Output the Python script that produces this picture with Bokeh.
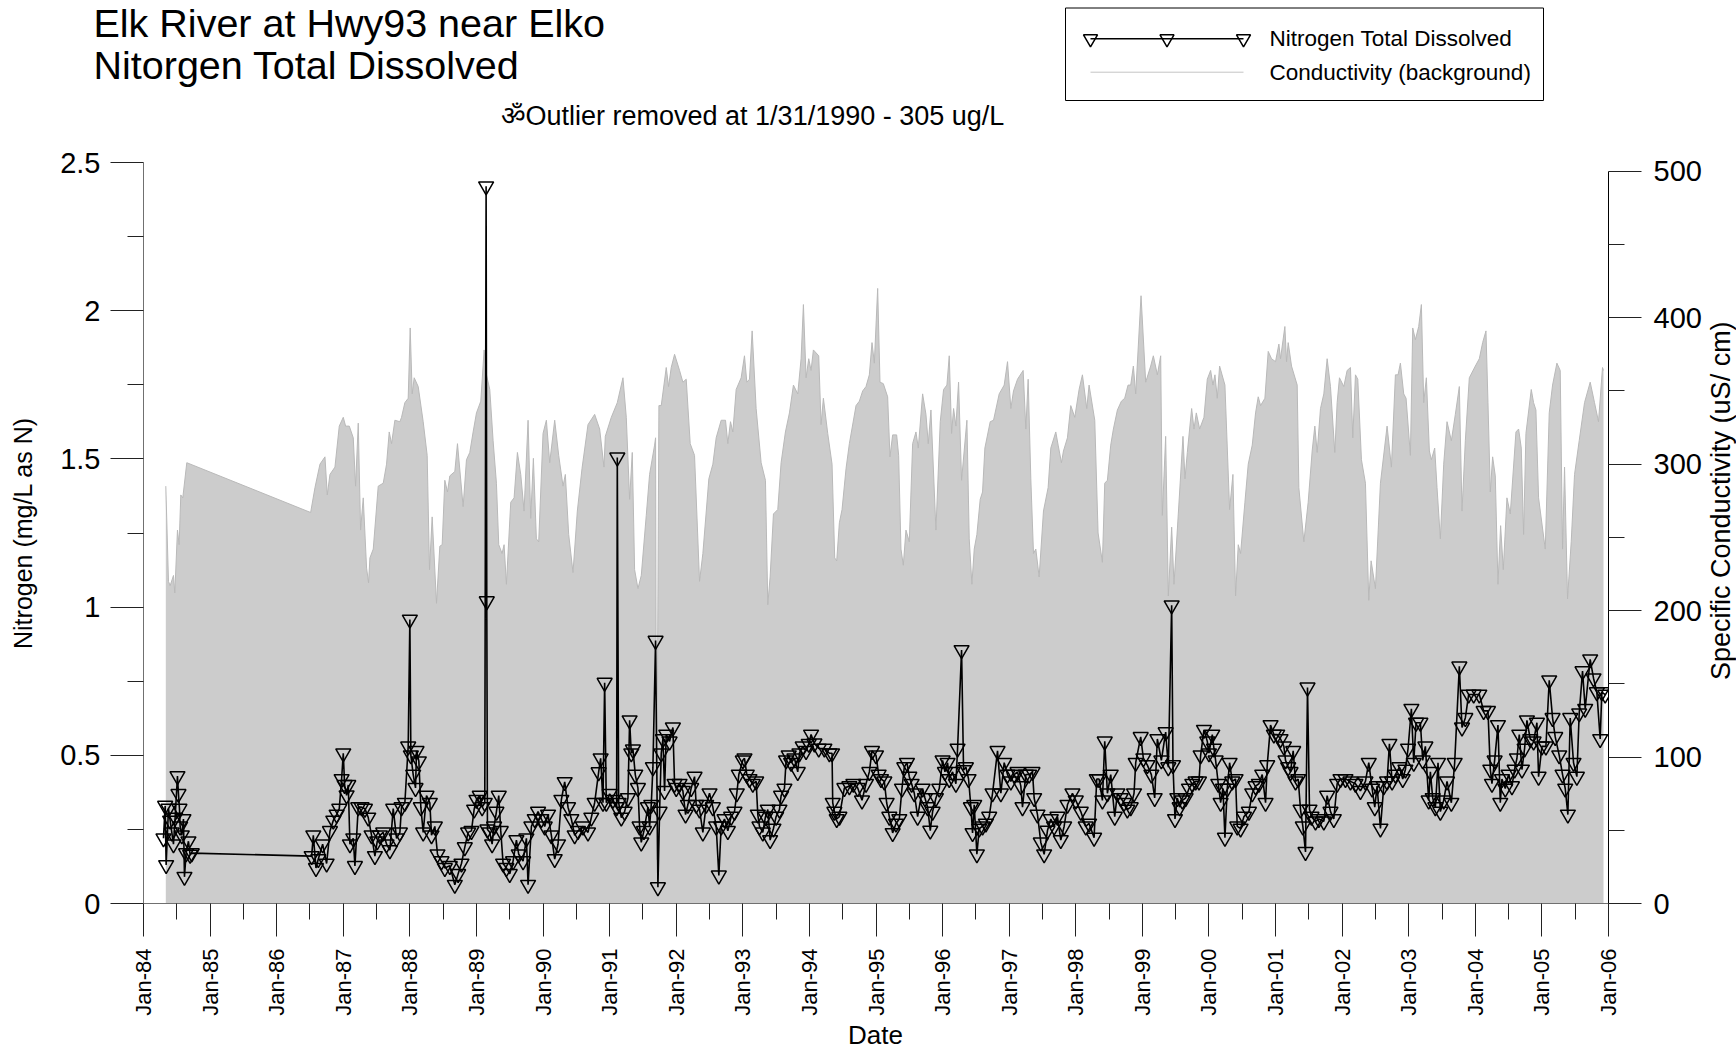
from math import pi
from bokeh.plotting import figure
from bokeh.layouts import column, row
from bokeh.models import Range1d, LinearAxis, FixedTicker
from bokeh.core.properties import value
from bokeh.embed import file_html
from bokeh.resources import INLINE

FONT = "Liberation Sans"

title_lines = ["Elk River at Hwy93 near Elko", "Nitorgen Total Dissolved"]
note_text = "\u0950Outlier removed at 1/31/1990 - 305 ug/L"
y_left_label = "Nitrogen (mg/L as N)"
y_right_label = "Specific Conductivity (uS/ cm)"
x_label = "Date"
legend_labels = ["Nitrogen Total Dissolved", "Conductivity (background)"]

x_tick_years = [1984, 1985, 1986, 1987, 1988, 1989, 1990, 1991, 1992, 1993, 1994, 1995,
                1996, 1997, 1998, 1999, 2000, 2001, 2002, 2003, 2004, 2005, 2006]
x_tick_labels = ["Jan-84", "Jan-85", "Jan-86", "Jan-87", "Jan-88", "Jan-89", "Jan-90", "Jan-91",
                 "Jan-92", "Jan-93", "Jan-94", "Jan-95", "Jan-96", "Jan-97", "Jan-98", "Jan-99",
                 "Jan-00", "Jan-01", "Jan-02", "Jan-03", "Jan-04", "Jan-05", "Jan-06"]
left_ticks = [0, 0.5, 1, 1.5, 2, 2.5]
left_tick_labels = ["0", "0.5", "1", "1.5", "2", "2.5"]
left_minor = [0.25, 0.75, 1.25, 1.75, 2.25]
right_ticks = [0, 100, 200, 300, 400, 500]
right_minor = [50, 150, 250, 350, 450]

# Specific conductivity (uS/cm), background series
cond_year = [
    1984.335, 1984.375, 1984.40, 1984.45, 1984.47, 1984.51, 1984.535, 1984.56, 1984.59, 1984.65,
    1986.51, 1986.575, 1986.65, 1986.725, 1986.76, 1986.80, 1986.875, 1986.94, 1987.0, 1987.035,
    1987.09, 1987.15, 1987.185, 1987.225, 1987.26, 1987.30, 1987.35, 1987.38, 1987.40, 1987.45,
    1987.525, 1987.60, 1987.65, 1987.69, 1987.725, 1987.775, 1987.85,
    1987.875, 1987.925, 1987.975, 1988.005, 1988.035, 1988.065, 1988.125, 1988.20, 1988.26, 1988.295,
    1988.335, 1988.40, 1988.45, 1988.485, 1988.525, 1988.565, 1988.60, 1988.675, 1988.715, 1988.80,
    1988.85, 1988.90, 1988.95, 1989.0, 1989.065, 1989.115, 1989.15, 1989.20, 1989.25, 1989.30,
    1989.335, 1989.385, 1989.415, 1989.45, 1989.515, 1989.565, 1989.615, 1989.665, 1989.715, 1989.775,
    1989.815, 1989.855, 1989.90, 1989.935, 1990.0, 1990.05, 1990.10, 1990.175, 1990.235, 1990.30,
    1990.335, 1990.385, 1990.45, 1990.515, 1990.585, 1990.675, 1990.775, 1990.85, 1990.915, 1990.935,
    1991.025, 1991.115, 1991.20, 1991.25, 1991.30, 1991.34, 1991.375, 1991.425, 1991.475, 1991.55,
    1991.60, 1991.675, 1991.69, 1991.705, 1991.74, 1991.775, 1991.85, 1991.885, 1991.925, 1991.975,
    1992.05, 1992.10, 1992.15, 1992.21, 1992.275, 1992.35, 1992.40, 1992.49, 1992.55, 1992.60,
    1992.675, 1992.74, 1992.775, 1992.815, 1992.85, 1992.90, 1992.975, 1993.025, 1993.06, 1993.10,
    1993.14, 1993.20, 1993.275, 1993.34, 1993.375, 1993.41, 1993.46, 1993.525, 1993.575, 1993.64,
    1993.70, 1993.76, 1993.825, 1993.875, 1993.91, 1993.95, 1993.99, 1994.025, 1994.06, 1994.14,
    1994.175, 1994.21, 1994.275, 1994.34, 1994.38, 1994.41, 1994.45, 1994.49, 1994.55, 1994.60,
    1994.70, 1994.75, 1994.80, 1994.85, 1994.90, 1994.94, 1994.975, 1995.025, 1995.06, 1995.11,
    1995.175, 1995.21, 1995.25, 1995.31, 1995.34, 1995.375, 1995.41, 1995.45, 1995.50,
    1995.55, 1995.60, 1995.635, 1995.70, 1995.75, 1995.785, 1995.825, 1995.90, 1995.965, 1996.015,
    1996.065, 1996.10, 1996.135, 1996.165, 1996.20, 1996.24, 1996.285, 1996.365, 1996.40, 1996.44,
    1996.475, 1996.515, 1996.565, 1996.60, 1996.635, 1996.715, 1996.765, 1996.85, 1996.925, 1996.975,
    1997.025, 1997.065, 1997.125, 1997.21, 1997.25, 1997.285, 1997.325, 1997.365, 1997.40, 1997.45,
    1997.515, 1997.585, 1997.625, 1997.70, 1997.735, 1997.785, 1997.815, 1997.875, 1997.925, 1997.985,
    1998.05, 1998.10, 1998.165, 1998.20, 1998.285, 1998.335, 1998.40, 1998.435, 1998.475, 1998.525,
    1998.565, 1998.625, 1998.685, 1998.735, 1998.785, 1998.825, 1998.865, 1998.90, 1998.98, 1999.05,
    1999.125, 1999.165, 1999.225, 1999.275, 1999.30,
    1999.35, 1999.39, 1999.44, 1999.475, 1999.525, 1999.61, 1999.64, 1999.675, 1999.74, 1999.775,
    1999.81, 1999.86, 1999.925, 1999.975, 2000.025, 2000.06, 2000.09, 2000.125, 2000.16, 2000.24,
    2000.31, 2000.36, 2000.40, 2000.44, 2000.475, 2000.54, 2000.59, 2000.65, 2000.70, 2000.74,
    2000.775, 2000.84, 2000.89, 2000.94, 2001.0, 2001.05, 2001.075, 2001.14, 2001.165, 2001.19,
    2001.24, 2001.325, 2001.35, 2001.425, 2001.49, 2001.55, 2001.59, 2001.625, 2001.675, 2001.725,
    2001.775, 2001.825, 2001.89, 2001.925, 2001.96, 2002.025, 2002.075, 2002.125, 2002.16, 2002.20,
    2002.235, 2002.29, 2002.35, 2002.40, 2002.435, 2002.50, 2002.575, 2002.675, 2002.74, 2002.80,
    2002.84, 2002.875, 2002.925, 2002.96, 2003.025, 2003.06, 2003.10, 2003.15,
    2003.19, 2003.225, 2003.265, 2003.31, 2003.34, 2003.39, 2003.425, 2003.475, 2003.525, 2003.575,
    2003.64, 2003.70, 2003.76, 2003.80, 2003.85, 2003.91, 2004.0, 2004.06, 2004.11, 2004.16,
    2004.19, 2004.225, 2004.26, 2004.30, 2004.34, 2004.38, 2004.42, 2004.475, 2004.525, 2004.61,
    2004.65, 2004.69, 2004.725, 2004.76, 2004.84, 2004.875, 2004.91, 2004.95, 2005.05, 2005.11,
    2005.16, 2005.225, 2005.275, 2005.31, 2005.34, 2005.385, 2005.44, 2005.49, 2005.56, 2005.64,
    2005.725, 2005.79, 2005.85, 2005.91, 2005.925,
]
cond_uScm = [
    285, 220, 217, 224, 212, 255, 245, 279, 277, 301,
    267, 284, 300, 305, 279, 293, 298, 326, 332, 326,
    326, 318, 285, 328, 255, 277, 229, 219, 236, 242,
    285, 287, 300, 322, 314, 330, 329,
    332, 342, 345, 393, 348, 359, 353, 329, 306, 228,
    264, 205, 244, 245, 289, 281, 292, 295, 314, 271,
    303, 308, 322, 335, 343, 378, 361, 351, 316, 287,
    245, 239, 245, 218, 274, 277, 308, 293, 268, 330,
    263, 304, 249, 247, 321, 330, 301, 330, 306, 285,
    293, 252, 226, 268, 297, 327, 334, 324, 298, 319,
    332, 342, 359, 332, 276, 308, 228, 215, 224, 265,
    293, 313, 318, 30, 340, 340, 366, 353, 366, 375,
    364, 356, 358, 314, 306, 220, 239, 290, 300, 318,
    330, 330, 314, 329, 322, 351, 359, 374, 356, 358,
    391, 338, 301, 289, 204, 223, 266, 269, 301, 322,
    335, 354, 348, 372, 409, 359, 372, 364, 378, 374,
    327, 345, 321, 300, 236, 234, 260, 269, 297, 314,
    340, 343, 350, 353, 361, 383, 369, 420, 356, 355,
    346, 305, 320, 320, 306, 242, 231, 255, 247,
    314, 322, 311, 348, 334, 314, 337, 255, 329, 351,
    354, 374, 321, 338, 326, 356, 289, 330, 249, 218,
    242, 252, 276, 281, 311, 329, 330, 348, 354, 370,
    338, 350, 358, 364, 324, 358, 290, 239, 242, 223,
    268, 284, 311, 322, 313, 301, 309, 318, 340, 332,
    351, 361, 338, 354, 330, 253, 233, 287, 289, 313,
    324, 337, 343, 345, 354, 354, 367, 348, 415, 356,
    367, 374, 361, 374, 265,
    319, 210, 257, 218, 255, 319, 290, 308, 338, 324,
    335, 324, 332, 358, 364, 354, 361, 345, 367, 354,
    269, 293, 210, 245, 239, 274, 300, 313, 335, 346,
    340, 345, 377, 372, 370, 382, 372, 394, 370, 383,
    367, 354, 284, 247, 274, 309, 326, 308, 338, 348,
    372, 353, 308, 342, 359, 353, 364, 366, 318, 361,
    358, 303, 287, 207, 234, 215, 287, 326, 298, 361,
    361, 369, 348, 345, 306, 393, 385, 394,
    409, 342, 359, 309, 303, 311, 284, 249, 300, 329,
    316, 334, 353, 268, 316, 359, 367, 372, 383, 391,
    342, 281, 305, 292, 218, 258, 228, 277, 266, 322,
    324, 311, 252, 321, 351, 342, 337, 277, 242, 335,
    354, 369, 364, 242, 298, 208, 247, 293, 316, 342,
    356, 342, 329, 366, 364,
]

# Nitrogen, total dissolved (mg/L as N)
nitro_year = [
    1984.30, 1984.325, 1984.34, 1984.375, 1984.40, 1984.425, 1984.45, 1984.475, 1984.51, 1984.525,
    1984.54, 1984.55, 1984.575, 1984.60, 1984.615, 1984.64, 1984.675, 1984.70, 1984.725,
    1986.525, 1986.55, 1986.59, 1986.625, 1986.69, 1986.75, 1986.80, 1986.85, 1986.90, 1986.94,
    1986.975, 1987.0, 1987.02, 1987.05, 1987.075, 1987.10, 1987.15, 1987.175, 1987.225, 1987.275,
    1987.325, 1987.375, 1987.425, 1987.475, 1987.51, 1987.55, 1987.60, 1987.65, 1987.70, 1987.75,
    1987.80, 1987.85,
    1987.875, 1987.925, 1987.975, 1988.0, 1988.015, 1988.05, 1988.085, 1988.10, 1988.135, 1988.165,
    1988.20, 1988.25, 1988.30, 1988.325, 1988.375, 1988.415, 1988.475, 1988.525, 1988.60, 1988.675,
    1988.725, 1988.775, 1988.825, 1988.875, 1988.925, 1988.965, 1989.0, 1989.05, 1989.085, 1989.125,
    1989.145, 1989.155, 1989.165, 1989.20, 1989.235, 1989.265, 1989.30, 1989.335, 1989.365, 1989.40,
    1989.45, 1989.50, 1989.55, 1989.60, 1989.635, 1989.70, 1989.75, 1989.775, 1989.825, 1989.875,
    1989.925, 1989.975, 1990.025, 1990.075, 1990.125, 1990.175, 1990.225, 1990.275, 1990.325, 1990.375,
    1990.425, 1990.475, 1990.525, 1990.60, 1990.675, 1990.725, 1990.775, 1990.835, 1990.865, 1990.90,
    1990.925, 1990.95, 1991.0, 1991.05, 1991.105, 1991.115, 1991.135, 1991.175, 1991.225, 1991.275,
    1991.30, 1991.325, 1991.35, 1991.385, 1991.425, 1991.45, 1991.475, 1991.515, 1991.575,
    1991.60, 1991.625, 1991.65, 1991.69, 1991.725, 1991.75, 1991.775, 1991.80, 1991.825, 1991.85,
    1991.90, 1991.95, 1991.975, 1992.0, 1992.05, 1992.10, 1992.14, 1992.175, 1992.225, 1992.275,
    1992.30, 1992.35, 1992.40, 1992.45, 1992.50, 1992.55, 1992.60, 1992.64, 1992.675, 1992.725,
    1992.775, 1992.825, 1992.875, 1992.91, 1992.94, 1993.0, 1993.025, 1993.06, 1993.10, 1993.15,
    1993.20, 1993.225, 1993.25, 1993.30, 1993.34, 1993.375, 1993.41, 1993.46, 1993.50, 1993.55,
    1993.575, 1993.625, 1993.65, 1993.69, 1993.725, 1993.775, 1993.825, 1993.85, 1993.90, 1993.95,
    1993.99, 1994.025, 1994.075, 1994.14, 1994.225, 1994.30, 1994.34, 1994.35, 1994.375, 1994.41,
    1994.45, 1994.525, 1994.60, 1994.66, 1994.725, 1994.79, 1994.85, 1994.90, 1994.94, 1995.0,
    1995.04, 1995.075, 1995.125, 1995.16, 1995.20, 1995.25, 1995.30, 1995.35, 1995.39, 1995.425,
    1995.465, 1995.50, 1995.535, 1995.575, 1995.625, 1995.70, 1995.735, 1995.775, 1995.815, 1995.85,
    1995.90, 1995.95, 1996.0, 1996.035, 1996.075, 1996.10, 1996.15, 1996.20, 1996.225, 1996.285,
    1996.315, 1996.35, 1996.39, 1996.425, 1996.45, 1996.475, 1996.515, 1996.55, 1996.60, 1996.65,
    1996.70, 1996.75, 1996.825, 1996.875, 1996.925, 1996.975, 1997.025, 1997.075, 1997.125, 1997.175,
    1997.20, 1997.25, 1997.30, 1997.35, 1997.375, 1997.425, 1997.475, 1997.525, 1997.575, 1997.625,
    1997.675, 1997.725, 1997.775, 1997.825, 1997.875, 1997.95, 1998.0, 1998.075, 1998.15, 1998.20,
    1998.275, 1998.315, 1998.35, 1998.40, 1998.435, 1998.475, 1998.525, 1998.585, 1998.625, 1998.675,
    1998.725, 1998.775, 1998.825, 1998.875, 1998.90, 1998.975, 1999.015, 1999.075, 1999.135, 1999.185,
    1999.225, 1999.285, 1999.35, 1999.39, 1999.44, 1999.46, 1999.49, 1999.525, 1999.56, 1999.60,
    1999.65, 1999.70, 1999.75, 1999.80, 1999.85, 1999.875, 1999.925, 1999.975, 2000.0, 2000.05,
    2000.075, 2000.10, 2000.14, 2000.175, 2000.21, 2000.24, 2000.275, 2000.31, 2000.35, 2000.40,
    2000.425, 2000.475, 2000.525, 2000.60, 2000.65, 2000.70, 2000.75, 2000.80, 2000.85, 2000.875,
    2000.925, 2000.975, 2001.025, 2001.075, 2001.125, 2001.15, 2001.19, 2001.225, 2001.265, 2001.30,
    2001.34, 2001.375, 2001.41, 2001.45, 2001.48, 2001.51, 2001.54, 2001.60, 2001.65, 2001.725,
    2001.775, 2001.825, 2001.875, 2001.925, 2001.975, 2002.05, 2002.125, 2002.20, 2002.275, 2002.35,
    2002.40, 2002.45, 2002.49, 2002.525, 2002.575, 2002.625, 2002.675, 2002.71, 2002.75, 2002.80,
    2002.86, 2002.91, 2002.95, 2002.99, 2003.04, 2003.075, 2003.11, 2003.175, 2003.21, 2003.25,
    2003.30, 2003.325, 2003.36, 2003.40, 2003.44, 2003.475, 2003.525, 2003.575, 2003.64, 2003.69,
    2003.76, 2003.80, 2003.85, 2003.90, 2003.975, 2004.06, 2004.125, 2004.19, 2004.225, 2004.25,
    2004.29, 2004.34, 2004.375, 2004.40, 2004.45, 2004.50, 2004.55, 2004.59, 2004.625, 2004.66,
    2004.70, 2004.74, 2004.775, 2004.825, 2004.875, 2004.925, 2004.95, 2005.0, 2005.06, 2005.11,
    2005.16, 2005.20, 2005.26, 2005.31, 2005.35, 2005.39, 2005.425, 2005.475, 2005.525, 2005.56,
    2005.61, 2005.65, 2005.725, 2005.775, 2005.825, 2005.875, 2005.90, 2005.95,
]
nitro_mgL = [
    0.22, 0.33, 0.13, 0.32, 0.28, 0.24, 0.20, 0.29, 0.43, 0.37,
    0.32, 0.26, 0.23, 0.285, 0.09, 0.17, 0.21, 0.165, 0.17,
    0.16, 0.23, 0.12, 0.15, 0.20, 0.135, 0.245, 0.28, 0.30, 0.32,
    0.42, 0.507, 0.40, 0.365, 0.40, 0.20, 0.22, 0.127, 0.325, 0.325,
    0.32, 0.29, 0.23, 0.16, 0.21, 0.23, 0.24, 0.20, 0.18, 0.32,
    0.22, 0.24,
    0.325, 0.34, 0.53, 0.958, 0.50, 0.435, 0.39, 0.515, 0.48, 0.325,
    0.24, 0.364, 0.34, 0.23, 0.26, 0.166, 0.143, 0.12, 0.127, 0.063,
    0.10, 0.135, 0.19, 0.24, 0.245, 0.317, 0.35, 0.364, 0.325, 0.34,
    2.42, 1.02, 0.25, 0.24, 0.20, 0.26, 0.31, 0.364, 0.245, 0.135,
    0.12, 0.10, 0.143, 0.214, 0.166, 0.143, 0.22, 0.063, 0.26, 0.285,
    0.31, 0.285, 0.26, 0.30, 0.23, 0.15, 0.20, 0.35, 0.41, 0.325,
    0.285, 0.23, 0.245, 0.26, 0.24, 0.29, 0.34, 0.443, 0.49, 0.34,
    0.745, 0.34, 0.37, 0.35, 0.325, 1.505, 0.34, 0.29, 0.31, 0.356,
    0.618, 0.507, 0.52, 0.435, 0.39, 0.26, 0.206, 0.245, 0.325,
    0.26, 0.333, 0.46, 0.887, 0.055, 0.31, 0.507, 0.555, 0.38, 0.57,
    0.547, 0.594, 0.404, 0.39, 0.404, 0.38, 0.30, 0.333, 0.39, 0.428,
    0.333, 0.317, 0.24, 0.333, 0.372, 0.325, 0.26, 0.095, 0.26, 0.285,
    0.245, 0.293, 0.31, 0.372, 0.435, 0.483, 0.49, 0.435, 0.42, 0.404,
    0.412, 0.30, 0.26, 0.24, 0.293, 0.317, 0.214, 0.253, 0.293, 0.317,
    0.364, 0.388, 0.483, 0.50, 0.475, 0.49, 0.444, 0.507, 0.53, 0.515,
    0.539, 0.57, 0.54, 0.523, 0.523, 0.507, 0.507, 0.34, 0.31, 0.285,
    0.293, 0.39, 0.396, 0.404, 0.39, 0.348, 0.404, 0.444, 0.515, 0.50,
    0.435, 0.42, 0.412, 0.34, 0.293, 0.238, 0.27, 0.285, 0.388, 0.46,
    0.475, 0.428, 0.404, 0.372, 0.293, 0.388, 0.356, 0.325, 0.246, 0.31,
    0.356, 0.388, 0.483, 0.444, 0.475, 0.42, 0.444, 0.404, 0.523, 0.855,
    0.45, 0.46, 0.42, 0.325, 0.238, 0.333, 0.166, 0.253, 0.26, 0.27,
    0.293, 0.372, 0.515, 0.372, 0.475, 0.435, 0.412, 0.435, 0.444, 0.396,
    0.325, 0.435, 0.435, 0.444, 0.356, 0.30, 0.206, 0.166, 0.246, 0.285,
    0.26, 0.293, 0.214, 0.26, 0.333, 0.372, 0.348, 0.31, 0.26, 0.27,
    0.222, 0.42, 0.42, 0.348, 0.547, 0.372, 0.435, 0.293, 0.372, 0.356,
    0.34, 0.317, 0.325, 0.372, 0.475, 0.562, 0.49, 0.467, 0.435, 0.356,
    0.555, 0.483, 0.578, 0.46, 1.006, 0.467, 0.285, 0.356, 0.325, 0.348,
    0.356, 0.388, 0.404, 0.412, 0.412, 0.50, 0.586, 0.547, 0.507, 0.57,
    0.523, 0.483, 0.404, 0.34, 0.388, 0.222, 0.388, 0.475, 0.412, 0.42,
    0.26, 0.253, 0.293, 0.31, 0.372, 0.396, 0.404, 0.435, 0.34, 0.467,
    0.602, 0.57, 0.57, 0.555, 0.53, 0.483, 0.46, 0.444, 0.515, 0.412,
    0.42, 0.317, 0.26, 0.174, 0.729, 0.317, 0.293, 0.277, 0.285, 0.277,
    0.364, 0.31, 0.285, 0.404, 0.42, 0.42, 0.412, 0.404, 0.38, 0.412,
    0.475, 0.388, 0.325, 0.396, 0.253, 0.396, 0.412, 0.539, 0.412, 0.435,
    0.46, 0.42, 0.452, 0.523, 0.657, 0.475, 0.61, 0.61, 0.483, 0.53,
    0.348, 0.444, 0.356, 0.325, 0.475, 0.31, 0.348, 0.412, 0.34, 0.475,
    0.80, 0.594, 0.626, 0.705, 0.705, 0.705, 0.65, 0.65, 0.452, 0.404,
    0.483, 0.602, 0.34, 0.42, 0.388, 0.435, 0.396, 0.452, 0.49, 0.57,
    0.452, 0.523, 0.618, 0.555, 0.547, 0.61, 0.428, 0.53, 0.53, 0.753,
    0.626, 0.562, 0.50, 0.435, 0.388, 0.30, 0.626, 0.475, 0.428, 0.642,
    0.784, 0.657, 0.824, 0.76, 0.713, 0.555, 0.713, 0.705,
]

# ---------------- layout geometry (pixels; the page has no body margin) ----------------
TOTAL_W, TOTAL_H = 1736, 1049
HDR_H = 135
ML, MR, MT, MB = 143, 94, 27, 113
FRAME_W, FRAME_H = 1467, 743
MAIN_W = ML + FRAME_W + MR
MAIN_H = MT + FRAME_H + MB
RLAB_W = TOTAL_W - MAIN_W
FTR_H = TOTAL_H - HDR_H - MAIN_H


def blank_fig(w, h):
    f = figure(width=w, height=h, x_range=Range1d(0, w), y_range=Range1d(0, h),
               output_backend="svg", toolbar_location=None, min_border=0,
               x_axis_location=None, y_axis_location=None)
    f.grid.visible = False
    f.outline_line_color = None
    f.background_fill_color = "white"
    f.border_fill_color = "white"
    return f


# ---------------- header: titles, note, legend ----------------
hdr = blank_fig(TOTAL_W, HDR_H)


def htext(txt, x, y_from_top, size, align="left"):
    hdr.text(x=[x], y=[HDR_H - y_from_top], text=[txt], text_font=value(FONT),
             text_font_size=size, text_color="black", text_baseline="middle", text_align=align)


htext(title_lines[0], 93, 22.5, "39.5px")
htext(title_lines[1], 93, 64, "39.5px")
htext(note_text, 500, 115.5, "27px")

hdr.quad(left=[1065], right=[1543], top=[HDR_H - 7.5], bottom=[HDR_H - 100],
         fill_color="white", line_color="black", line_width=1)
leg_y1, leg_y2 = HDR_H - 38.3, HDR_H - 71.7
hdr.line(x=[1090, 1243], y=[leg_y1, leg_y1], line_color="black", line_width=1.6)
hdr.scatter(x=[1090, 1166.5, 1243], y=[leg_y1] * 3, marker="inverted_triangle", size=14,
            fill_color=None, line_color="black", line_width=1.5)
hdr.line(x=[1090, 1243], y=[leg_y2, leg_y2], line_color="#c4c4c4", line_width=1)
htext(legend_labels[0], 1269, 38.3, "22.5px")
htext(legend_labels[1], 1269, 71.7, "22.5px")

# ---------------- main chart ----------------
p = figure(width=MAIN_W, height=MAIN_H, x_range=Range1d(1984, 2006), y_range=Range1d(0, 2.5),
           output_backend="svg", toolbar_location=None,
           min_border_left=ML, min_border_right=MR, min_border_top=MT, min_border_bottom=MB)
p.extra_y_ranges = {"cond": Range1d(0, 506)}
p.grid.visible = False
p.outline_line_color = None
p.background_fill_color = "white"
p.border_fill_color = "white"

p.varea(x=cond_year, y1=0, y2=cond_uScm, fill_color="#cccccc", y_range_name="cond")
p.line(cond_year, cond_uScm, line_color="#b9b9b9", line_width=1, y_range_name="cond")
p.line(nitro_year, nitro_mgL, line_color="black", line_width=1.6)
p.scatter(nitro_year, nitro_mgL, marker="inverted_triangle", size=15,
          fill_color=None, line_color="black", line_width=1.5)


def style_axis(ax, font_size, standoff):
    ax.major_tick_out = 33
    ax.major_tick_in = 0
    ax.minor_tick_out = 16
    ax.minor_tick_in = 0
    ax.major_tick_line_color = "#222222"
    ax.minor_tick_line_color = "#222222"
    ax.major_label_text_font = FONT
    ax.major_label_text_font_size = font_size
    ax.major_label_text_color = "black"
    ax.major_label_standoff = standoff


xax = p.xaxis[0]
xax.ticker = FixedTicker(ticks=x_tick_years, minor_ticks=[y + 0.5 for y in x_tick_years[:-1]])
xax.major_label_overrides = dict(zip(x_tick_years, x_tick_labels))
xax.major_label_orientation = pi / 2
xax.axis_line_color = "#707070"
style_axis(xax, "22px", 12)

lax = p.yaxis[0]
lax.ticker = FixedTicker(ticks=left_ticks, minor_ticks=left_minor)
lax.major_label_overrides = dict(zip(left_ticks, left_tick_labels))
lax.axis_line_color = "#707070"
lax.axis_label = y_left_label
lax.axis_label_text_font = FONT
lax.axis_label_text_font_size = "25px"
lax.axis_label_text_font_style = "normal"
lax.axis_label_text_color = "black"
lax.axis_label_standoff = 20
style_axis(lax, "29px", 10)

rax = LinearAxis(y_range_name="cond", ticker=FixedTicker(ticks=right_ticks, minor_ticks=right_minor),
                 bounds=(0, 500))
rax.axis_line_color = "black"
style_axis(rax, "29px", 12)
p.add_layout(rax, "right")

# ---------------- right axis title strip ----------------
rlab = blank_fig(RLAB_W, MAIN_H)
rlab.text(x=[RLAB_W / 2], y=[MAIN_H - (538 - HDR_H)], text=[y_right_label], text_font=value(FONT),
          text_font_size="27px", text_color="black", text_align="center",
          text_baseline="middle", angle=pi / 2)

# ---------------- footer: x axis title ----------------
ftr = blank_fig(TOTAL_W, FTR_H)
ftr.text(x=[875], y=[FTR_H - (1034 - HDR_H - MAIN_H)], text=[x_label], text_font=value(FONT),
         text_font_size="26px", text_color="black", text_align="center", text_baseline="middle")

layout = column(hdr, row(p, rlab), ftr)
open("out.html", "w").write(file_html(layout, INLINE))
